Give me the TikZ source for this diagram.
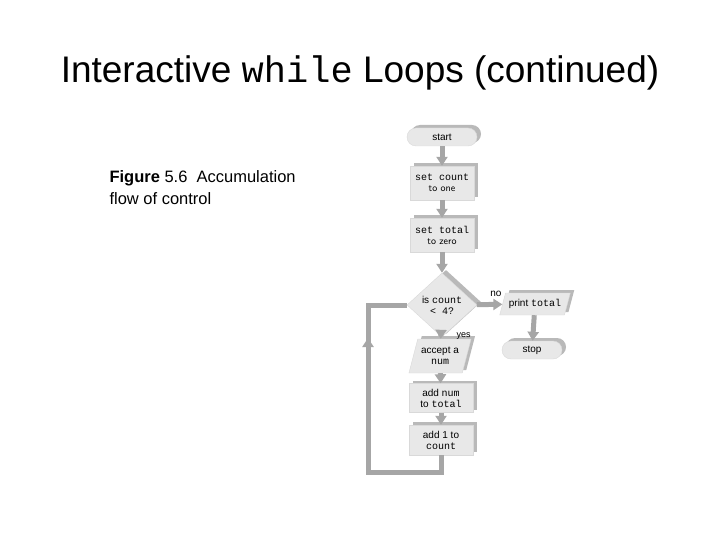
\documentclass[tikz,border=0pt]{standalone}
\usepackage{fontspec}
\setmainfont{Liberation Sans}
\setmonofont{Liberation Mono}
\usetikzlibrary{shapes.geometric,shadows,arrows.meta}
\tikzset{
  flow/.style={draw=gray!70, line width=5pt, -{Triangle[length=9pt,width=11pt]}},
  box/.style={rectangle, fill=gray!18, draw=gray!30, minimum width=64pt, minimum height=34pt,
    align=center, font=\fontsize{10}{11}\selectfont,
    copy shadow={shadow xshift=4pt, shadow yshift=3pt, fill=gray!55, draw=none}},
  term/.style={box, rounded corners=9pt, minimum width=70pt, minimum height=18pt},
  io/.style={box, trapezium, trapezium left angle=70, trapezium right angle=110,
    minimum width=50pt, trapezium stretches body},
  test/.style={box, diamond, aspect=1.1, minimum width=70pt, minimum height=64pt, inner sep=0pt}
}
\begin{document}
\begin{tikzpicture}[x=1pt,y=-1pt]
\useasboundingbox (0,0) rectangle (720,540);
\node[font=\fontsize{37}{40}\selectfont] at (360,73) {Interactive \texttt{while} Loops (continued)};
\node[anchor=west, align=left, font=\fontsize{16.5}{22}\selectfont] at (106,188)
  {\textbf{Figure} 5.6\ \ Accumulation\\flow of control};

\node[term] (start) at (442,137) {start};
\node[box] (setcount) at (442,183) {\ttfamily set count\\\sffamily to one};
\node[box] (settotal) at (442,235) {\ttfamily set total\\\sffamily to zero};
\node[test] (iscount) at (442,305) {is \texttt{count}\\\texttt{< 4?}};
\node[io, minimum height=22pt] (print) at (535,304) {print \texttt{total}};
\node[term, minimum width=60pt] (stop) at (532,350) {stop};
\node[io] (accept) at (440,356) {accept a\\\texttt{num}};
\node[box, minimum height=29pt] (addnum) at (441,398) {add \texttt{num}\\to \texttt{total}};
\node[box, minimum height=30pt] (addone) at (441,440) {add 1 to\\\texttt{count}};
\coordinate (down) at (441,472);
\coordinate (left) at (368,472);

\draw[flow] (start) -- (setcount);
\draw[flow] (setcount) -- (settotal);
\draw[flow] (settotal) -- (iscount);
\draw[flow] (iscount) -- node[above right, font=\fontsize{10}{10}\selectfont, pos=0.3, yshift=2pt] {no} (print);
\draw[flow] (print) -- (stop);
\draw[flow] (iscount) -- node[right, font=\fontsize{9}{10}\selectfont, pos=0.0, xshift=10pt] {yes} (accept);
\draw[flow] (accept) -- (addnum);
\draw[flow] (addnum) -- (addone);
\draw[flow, -] (addone) -- (down) -- (left) -- (left |- iscount) -- (iscount.west);
\draw[flow] (left) -- (368,338);
\end{tikzpicture}
\end{document}
